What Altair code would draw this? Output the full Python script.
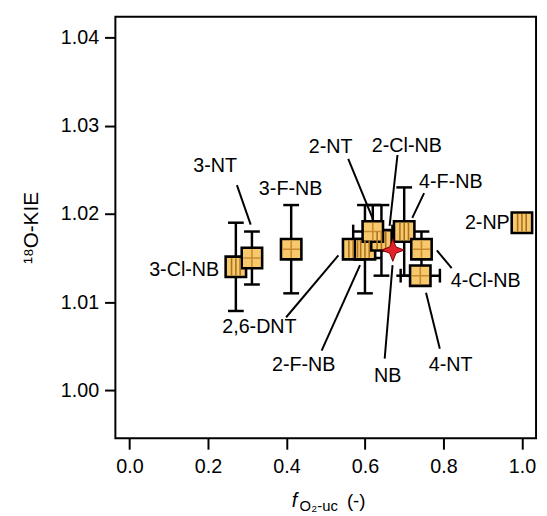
import altair as alt
import pandas as pd

# ---- data ----
names   = ["3-Cl-NB", "3-NT", "3-F-NB", "2,6-DNT", "2-F-NB", "2-Cl-NB", "2-NT",
           "4-F-NB", "4-Cl-NB", "4-NT", "2-NP"]
f_o2uc  = [0.271, 0.312, 0.412, 0.570, 0.600, 0.642, 0.620, 0.700, 0.744, 0.741, 1.000]
kie     = [1.014, 1.015, 1.016, 1.016, 1.016, 1.017, 1.018, 1.018, 1.016, 1.013, 1.019]
kie_err = [0.005, 0.003, 0.005, 0.0,   0.005, 0.004, 0.003, 0.005, 0.002, 0.0,   0.0]
f_err   = [0.0,   0.0,   0.0,   0.0,   0.0,   0.0,   0.05,  0.0,   0.0,   0.05,  0.0]
pattern = ["stripes", "cross", "cross", "stripes", "stripes", "stripes", "cross",
           "stripes", "cross", "cross", "stripes"]

nb_name = ["NB"]
nb_f    = [0.671]
nb_kie  = [1.0159]

# labels (anchor in data units) and alignment
lab_text  = ["3-NT", "3-F-NB", "3-Cl-NB", "2-NT", "2-Cl-NB", "4-F-NB", "2-NP",
             "4-Cl-NB", "4-NT", "NB", "2-F-NB", "2,6-DNT"]
lab_x     = [0.218, 0.4105, 0.2285, 0.457, 0.6176, 0.738, 0.969,
             0.8185, 0.8185, 0.658, 0.444, 0.331]
lab_y     = [1.02545, 1.02277, 1.01363, 1.02762, 1.02773, 1.02355, 1.01898,
             1.0124, 1.00282, 1.0016, 1.00282, 1.00717]
lab_align = ["center", "center", "right", "left", "left", "left", "right",
             "left", "center", "center", "center", "center"]

# leader lines (data units)
ld_x1 = [0.2737, 0.5574, 0.6829, 0.7507, 0.7833, 0.7557, 0.6703, 0.5875, 0.5323]
ld_y1 = [1.02325, 1.02623, 1.02667, 1.02235, 1.01586, 1.01107, 1.01419, 1.01419, 1.01531]
ld_x2 = [0.3088, 0.6201, 0.6628, 0.7206, 0.8210, 0.7908, 0.6503, 0.4896, 0.3992]
ld_y2 = [1.01879, 1.01943, 1.01865, 1.01955, 1.01385, 1.00472, 1.0036, 1.0045, 1.00829]

x_ticks = [0.0, 0.2, 0.4, 0.6, 0.8, 1.0]
y_ticks = [1.00, 1.01, 1.02, 1.03, 1.04]

FONT = "Liberation Sans"
FS = 20      # annotation labels
TFS = 20     # tick labels

df = pd.DataFrame({"name": names, "f": f_o2uc, "kie": kie, "ey": kie_err,
                   "ex": f_err, "pattern": pattern})
df["order"] = range(len(df))
df["ylo"] = df["kie"] - df["ey"]
df["yhi"] = df["kie"] + df["ey"]
df["xlo"] = df["f"] - df["ex"]
df["xhi"] = df["f"] + df["ex"]
dfy = df[df["ey"] > 0]
dfx = df[df["ex"] > 0]

xs = alt.Scale(domain=[-0.036, 1.036], nice=False, zero=False)
ys = alt.Scale(domain=[0.99457, 1.04234], nice=False, zero=False)

X = alt.X("f:Q", scale=xs,
          axis=alt.Axis(values=x_ticks, format=".1f", title=None, labelPadding=8))
Y = alt.Y("kie:Q", scale=ys,
          axis=alt.Axis(values=y_ticks, format=".2f", title="¹⁸O-KIE",
                        titleFontSize=21, titleFont=FONT, titleFontWeight="normal",
                        titleColor="black", titlePadding=19, labelPadding=6))

base = alt.Chart(df)
BLK = dict(color="black", opacity=1)

# vertical error bars
vbar = alt.Chart(dfy).mark_rule(strokeWidth=2.5, **BLK).encode(
    x=X, y=alt.Y("ylo:Q", scale=ys), y2="yhi:Q")
vcap_lo = alt.Chart(dfy).mark_tick(orient="horizontal", size=16, thickness=2.5,
                                   **BLK).encode(
    x=alt.X("f:Q", scale=xs), y=alt.Y("ylo:Q", scale=ys))
vcap_hi = alt.Chart(dfy).mark_tick(orient="horizontal", size=16, thickness=2.5,
                                   **BLK).encode(
    x=alt.X("f:Q", scale=xs), y=alt.Y("yhi:Q", scale=ys))
# horizontal error bars
hbar = alt.Chart(dfx).mark_rule(strokeWidth=2.5, **BLK).encode(
    x=alt.X("xlo:Q", scale=xs), x2="xhi:Q", y=alt.Y("kie:Q", scale=ys))
hcap_lo = alt.Chart(dfx).mark_tick(orient="vertical", size=14, thickness=2.5,
                                   **BLK).encode(
    x=alt.X("xlo:Q", scale=xs), y=alt.Y("kie:Q", scale=ys))
hcap_hi = alt.Chart(dfx).mark_tick(orient="vertical", size=14, thickness=2.5,
                                   **BLK).encode(
    x=alt.X("xhi:Q", scale=xs), y=alt.Y("kie:Q", scale=ys))

# leader lines
ld = pd.DataFrame({"x1": ld_x1, "y1": ld_y1, "x2": ld_x2, "y2": ld_y2})
leaders = alt.Chart(ld).mark_rule(strokeWidth=2, **BLK).encode(
    x=alt.X("x1:Q", scale=xs), y=alt.Y("y1:Q", scale=ys), x2="x2:Q", y2="y2:Q")

# squares
SQ = 430
squares = base.mark_point(shape="square", filled=True, size=SQ, fill="#F8C86C",
                          stroke="black", strokeWidth=2.6, opacity=1).encode(
    x=X, y=Y, order="order:Q")
cross = alt.Chart(df[df["pattern"] == "cross"]).mark_point(
    shape="M-0.85,0L0.85,0M0,-0.85L0,0.85", filled=False, size=SQ,
    stroke="#C98A30", strokeWidth=1.6, opacity=1).encode(
    x=alt.X("f:Q", scale=xs), y=alt.Y("kie:Q", scale=ys))
stripes = alt.Chart(df[df["pattern"] == "stripes"]).mark_point(
    shape="M-0.42,-0.85L-0.42,0.85M0,-0.85L0,0.85M0.42,-0.85L0.42,0.85",
    filled=False, size=SQ, stroke="#A8721F", strokeWidth=1.6, opacity=1).encode(
    x=alt.X("f:Q", scale=xs), y=alt.Y("kie:Q", scale=ys))

# NB star
nb = pd.DataFrame({"name": nb_name, "f": nb_f, "kie": nb_kie})
star = alt.Chart(nb).mark_point(
    shape="M0,-1L0.28,-0.28L1,0L0.28,0.28L0,1L-0.28,0.28L-1,0L-0.28,-0.28Z",
    filled=True, size=520, fill="#E3212B", stroke="#7A0000", strokeWidth=1,
    opacity=1).encode(x=alt.X("f:Q", scale=xs), y=alt.Y("kie:Q", scale=ys))

# labels
lab = pd.DataFrame({"t": lab_text, "x": lab_x, "y": lab_y, "a": lab_align})
label_layers = []
for a in ["left", "center", "right"]:
    sub = lab[lab["a"] == a]
    label_layers.append(
        alt.Chart(sub).mark_text(align=a, baseline="middle", font=FONT,
                                 fontSize=FS, color="black").encode(
            x=alt.X("x:Q", scale=xs), y=alt.Y("y:Q", scale=ys), text="t:N"))

# x-axis title: italic f, subscript O2-uc, then (-)
def tpart(t, x, y, size, style="normal"):
    return alt.Chart(pd.DataFrame({"t": [t]})).mark_text(
        align="left", baseline="alphabetic", font=FONT, fontSize=size,
        fontStyle=style, color="black").encode(
        x=alt.value(x), y=alt.value(y), text="t:N")

xt_parts = ["f", "O", "2", "-uc", "(-)"]
xtitle = [
    tpart(xt_parts[0], 179, 498, 20, "italic"),
    tpart(xt_parts[1], 187, 502, 15),
    tpart(xt_parts[2], 199, 503, 10),
    tpart(xt_parts[3], 205, 502, 15),
    tpart(xt_parts[4], 235, 498, 19),
]

chart = alt.layer(
    vbar, vcap_lo, vcap_hi, hbar, hcap_lo, hcap_hi, leaders,
    squares, cross, stripes, star, *label_layers, *xtitle
).properties(
    width=427, height=428,
    padding={"left": 109, "top": 5, "right": 3, "bottom": 75},
    autosize=alt.AutoSizeParams(type="none"),
).configure_view(
    stroke="black", strokeWidth=2
).configure_axis(
    grid=False, domain=False, ticks=True, tickSize=11, tickWidth=2,
    tickColor="black", labelFont=FONT, labelFontSize=TFS, labelColor="black"
)

chart.save("out.html", embed_options={"renderer": "svg", "actions": False})
